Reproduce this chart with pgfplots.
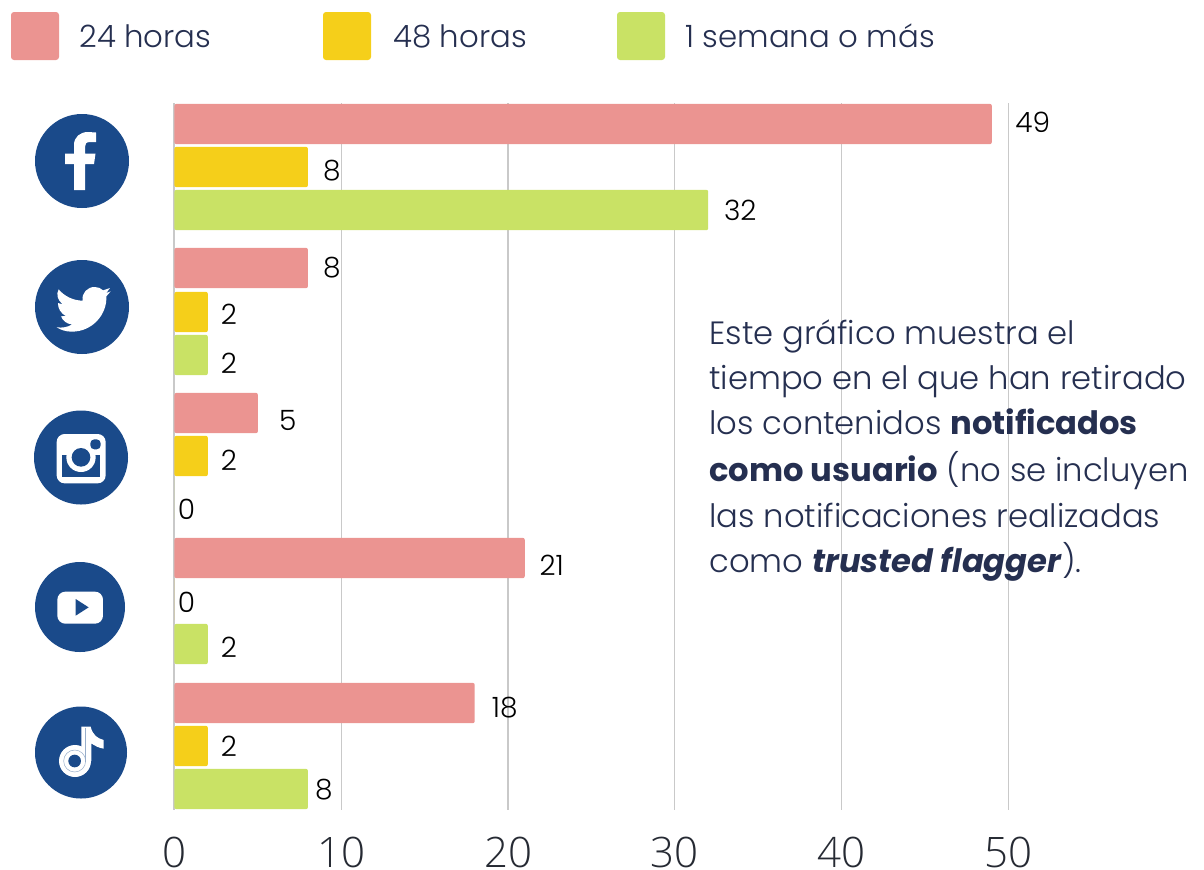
\documentclass[border=0pt]{standalone}
\usepackage{fontspec}
\usepackage{pgfplots}
\usepackage{pgfplotstable}
\pgfplotsset{compat=1.18}
\setmainfont{Poppins}[UprightFont=* Light,BoldFont=* Bold,ItalicFont=* Light Italic,BoldItalicFont=* Bold Italic]
\newfontfamily\tickfont{Open Sans Light}
\definecolor{pinkb}{HTML}{EB9491}
\definecolor{yellowb}{HTML}{F5CF1A}
\definecolor{greenb}{HTML}{C9E265}
\definecolor{navy}{HTML}{252F50}
\definecolor{tickc}{HTML}{262A33}
\definecolor{iconb}{HTML}{1A4A8A}
\definecolor{gridc}{HTML}{C9C9C9}
\pgfplotstableread{
v y dx dy
49 124 41 -2
8 268 24 0
5 413 30 7
21 558 27 7
18 703 30 5
}\hours
\pgfplotstableread{
v y dx dy
8 167 24 4
2 312 21 2
2 456 21 4
0 601 12 1
2 746 21 0
}\twodays
\pgfplotstableread{
v y dx dy
32 210 32 0
2 355 21 8
0 500 12 9
2 644 21 3
8 789 16 1
}\week
\begin{document}
\begin{tikzpicture}[x=0.5pt,y=-0.5pt]
\useasboundingbox (0,0) rectangle (1204,869);
\begin{axis}[
  at={(104.6,810)},anchor=south west,
  scale only axis,width=417pt,height=353.5pt,
  xmin=0,xmax=50,ymin=103,ymax=810,y dir=reverse,
  axis x line=none,
  axis lines=none,
  clip=false,
  xbar,bar shift=0pt,bar width=20.2pt,
  nodes near coords,
  visualization depends on={\thisrow{dx} \as \dx},
  visualization depends on={\thisrow{dy} \as \dy},
  every node near coord/.style={anchor=center,inner sep=0pt,text=black,font=\fontsize{14}{14}\selectfont,
     xshift=\dx*0.5pt,yshift=-\dy*0.5pt},
  nodes near coords style={/pgf/number format/assume math mode=true},
]
\foreach \xv in {10,20,30,40,50}{
  \edef\temp{\noexpand\draw[gridc,line width=0.6pt] (axis cs:\xv,103) -- (axis cs:\xv,810);}\temp
  \edef\temp{\noexpand\node[inner sep=0pt,text=tickc,font=\noexpand\tickfont\noexpand\fontsize{21}{21}\noexpand\selectfont] at (axis cs:\xv,852) {\xv};}\temp
}
\node[inner sep=0pt,text=tickc,font=\tickfont\fontsize{21}{21}\selectfont] at (axis cs:0,852) {0};
\draw[gridc,line width=1pt] (axis cs:0,103) -- (axis cs:0,810);
\addplot[fill=pinkb,draw=none,rounded corners=1pt] table[x=v,y=y,meta=v] {\hours};
\addplot[fill=yellowb,draw=none,rounded corners=1pt] table[x=v,y=y,meta=v] {\twodays};
\addplot[fill=greenb,draw=none,rounded corners=1pt] table[x=v,y=y,meta=v] {\week};
\end{axis}
% legend
\fill[pinkb,rounded corners=1.5pt] (11,12) rectangle (59,60);
\fill[yellowb,rounded corners=1.5pt] (323,12) rectangle (371,60);
\fill[greenb,rounded corners=1.5pt] (617,12) rectangle (665,60);
\begin{scope}[every node/.style={anchor=base west,inner sep=0pt,text=navy,font=\fontsize{15.4}{16}\selectfont}]
\node at (79,47) {24 horas};
\node at (393,47) {48 horas};
\node at (685,47) {1 semana o más};
\end{scope}
\begin{scope}[every node/.style={anchor=base west,inner sep=0pt,text=navy,font=\fontsize{16.1}{16}\selectfont}]
\node at (709,344) {Este gráfico muestra el};
\node at (709,389) {tiempo en el que han retirado};
\node at (709,434) {los contenidos \textbf{notificados}};
\node at (709,481) {\textbf{como usuario} (no se incluyen};
\node at (709,527) {las notificaciones realizadas};
\node at (709,572) {como \textbf{\textit{trusted flagger}}).};
\end{scope}
% icons
\fill[iconb] (82,161) circle[radius=47];
\fill[iconb] (82,307) circle[radius=47];
\fill[iconb] (81,457.5) circle[radius=47];
\fill[iconb] (80,607) circle[radius=45];
\fill[iconb] (81,752.5) circle[radius=46];
% facebook
\fill[white] (85,190) -- (74,190) -- (74,164) -- (65,164) -- (65,153.5) -- (74,153.5) -- (74,145) .. controls (74,137) and (80,132) .. (88,132) -- (96,132.5) -- (96,142) -- (90,142) .. controls (86,142) and (85,144) .. (85,147) -- (85,153.5) -- (95.5,153.5) -- (94,164) -- (85,164) -- cycle;
% twitter
\begin{scope}[shift={(0,90)},scale=1/3]
\fill[white] (170,712) .. controls (187,714) and (203,712) .. (216,703)
 .. controls (200,702) and (188,692) .. (183,679) -- (197,678)
 .. controls (183,670) and (173,655) .. (174,639) -- (188,643)
 .. controls (172,630) and (168,612) .. (176,598)
 .. controls (192,618) and (220,632) .. (248,632)
 .. controls (244,610) and (262,590) .. (285,591)
 .. controls (295,591) and (303,595) .. (309,601) -- (330,594) -- (319,609) -- (332,604) -- (319,619)
 .. controls (322,670) and (280,725) .. (215,725)
 .. controls (198,725) and (183,720) .. (170,712) -- cycle;
\end{scope}
% instagram
\begin{scope}[shift={(0,400)},scale=1/3]
\fill[white,rounded corners=4pt] (170,102) rectangle (317,250);
\fill[iconb] (187,165) rectangle (301,232);
\fill[white] (200,120) rectangle (287,165);
\fill[white] (243,172) circle[radius=44];
\fill[iconb] (243,172) circle[radius=28];
\fill[iconb,rounded corners=2pt] (271,118) rectangle (302,148);
% youtube
\fill[white,rounded corners=4pt] (172,575) rectangle (309,671);
\fill[iconb] (227,597) -- (266,622) -- (227,647) -- cycle;
% tiktok
\fill[white] (225,1083) circle[radius=48];
\fill[white] (244,980) -- (272,980) .. controls (278,1005) and (292,1015) .. (311,1020) -- (311,1046) .. controls (298,1044) and (285,1038) .. (274,1030) -- (274,1083) -- (244,1083) -- cycle;
\fill[iconb] (224,1083) circle[radius=19];
\fill[iconb] (170,1030) rectangle (232,1035);
\draw[iconb!45,line width=0.25pt] (224,1083) circle[radius=33];
\draw[iconb!45,line width=0.25pt] (256,985) -- (256,1085);
\end{scope}
\end{tikzpicture}
\end{document}
